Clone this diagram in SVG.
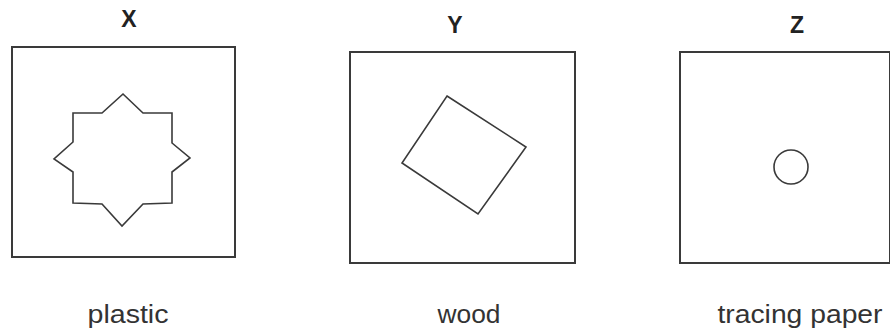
<svg xmlns="http://www.w3.org/2000/svg" width="890" height="334" viewBox="0 0 890 334">
<style>
.frame{fill:none;stroke:#3a3a3a;stroke-width:2}
.shape{fill:none;stroke:#3a3a3a;stroke-width:1.6;stroke-linejoin:miter}
.title{font-family:"Liberation Sans",Arial,sans-serif;font-weight:bold;font-size:23px;fill:#222;text-anchor:middle}
.label{font-family:"Liberation Sans",Arial,sans-serif;font-size:25px;fill:#333;text-anchor:middle}
</style>
<rect width="890" height="334" fill="#fff"/>
<g id="X">
<text class="title" x="129" y="27">X</text>
<rect class="frame" x="12" y="47" width="223" height="210"/>
<polygon class="shape" points="73,113 102,113 123,94 143,113 172,113 172,143 190,158 172,172 172,203 143,204 122,226 102,204 73,203 73,172 54,159 73,142"/>
<text class="label" x="128" y="323" textLength="81" lengthAdjust="spacingAndGlyphs">plastic</text>
</g>
<g id="Y">
<text class="title" x="455" y="33">Y</text>
<rect class="frame" x="350" y="52" width="225" height="211"/>
<polygon class="shape" points="447,96 526,147 478,214 402,163"/>
<text class="label" x="469" y="323" textLength="63" lengthAdjust="spacingAndGlyphs">wood</text>
</g>
<g id="Z">
<text class="title" x="797" y="33">Z</text>
<rect class="frame" x="680" y="52" width="210" height="211"/>
<circle class="shape" cx="791" cy="167" r="17"/>
<text class="label" x="800" y="323" textLength="165" lengthAdjust="spacingAndGlyphs">tracing paper</text>
</g>
<g id="connectors"></g>
</svg>
